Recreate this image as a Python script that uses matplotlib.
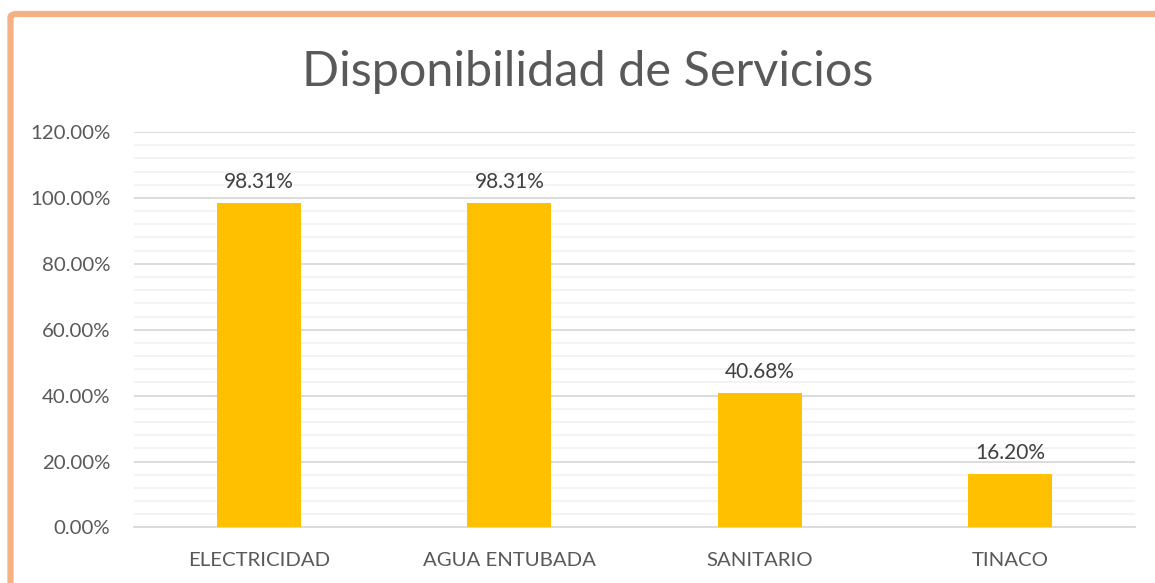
import matplotlib

matplotlib.use("Agg")

import matplotlib.pyplot as plt
from matplotlib.patches import FancyBboxPatch
from matplotlib.ticker import FuncFormatter, MultipleLocator

categories = ["ELECTRICIDAD", "AGUA ENTUBADA", "SANITARIO", "TINACO"]
values = [98.31, 98.31, 40.68, 16.20]
title = "Disponibilidad de Servicios"

plt.rcParams["font.family"] = ["Lato", "DejaVu Sans"]
text_color = "#595959"

fig = plt.figure(figsize=(11.55, 5.83), dpi=100)
ax = fig.add_axes([0.116, 0.0952, 0.8667, 0.6784])

# chart frame (runs off the right and bottom of the picture)
frame = FancyBboxPatch(
    (0.0091, -0.2), 1.2, 1.176,
    boxstyle="round,pad=0,rounding_size=0.006",
    transform=fig.transFigure, fill=False,
    edgecolor="#F4B183", linewidth=4.5, clip_on=False,
)
fig.patches.append(frame)

x = range(len(categories))
bars = ax.bar(x, values, width=0.336, color="#FFC000", zorder=3)

for rect, v in zip(bars, values):
    ax.annotate(f"{v:.2f}%", (rect.get_x() + rect.get_width() / 2, v),
                xytext=(0, 8), textcoords="offset points",
                ha="center", va="bottom", fontsize=15, color="#404040")

ax.set_xlim(-0.5, len(categories) - 0.5)
ax.set_ylim(0, 120)
ax.yaxis.set_major_locator(MultipleLocator(20))
ax.yaxis.set_minor_locator(MultipleLocator(4))
ax.yaxis.set_major_formatter(FuncFormatter(lambda v, _: f"{v:.2f}%"))
ax.grid(axis="y", which="major", color="#D9D9D9", linewidth=1.3, zorder=0)
ax.grid(axis="y", which="minor", color="#F2F2F2", linewidth=1.3, zorder=0)

ax.set_xticks(list(x))
ax.set_xticklabels(categories)
ax.tick_params(axis="both", which="both", length=0, labelsize=14.7, labelcolor=text_color)
ax.tick_params(axis="y", pad=17)
ax.tick_params(axis="x", pad=18)

for side in ("top", "right", "left"):
    ax.spines[side].set_visible(False)
ax.spines["bottom"].set_color("#D9D9D9")
ax.spines["bottom"].set_linewidth(1.3)

fig.text(0.509, 0.876, title, ha="center", va="center", fontsize=35,
         color=text_color)

fig.savefig("out.png", dpi=100)
plt.close(fig)
